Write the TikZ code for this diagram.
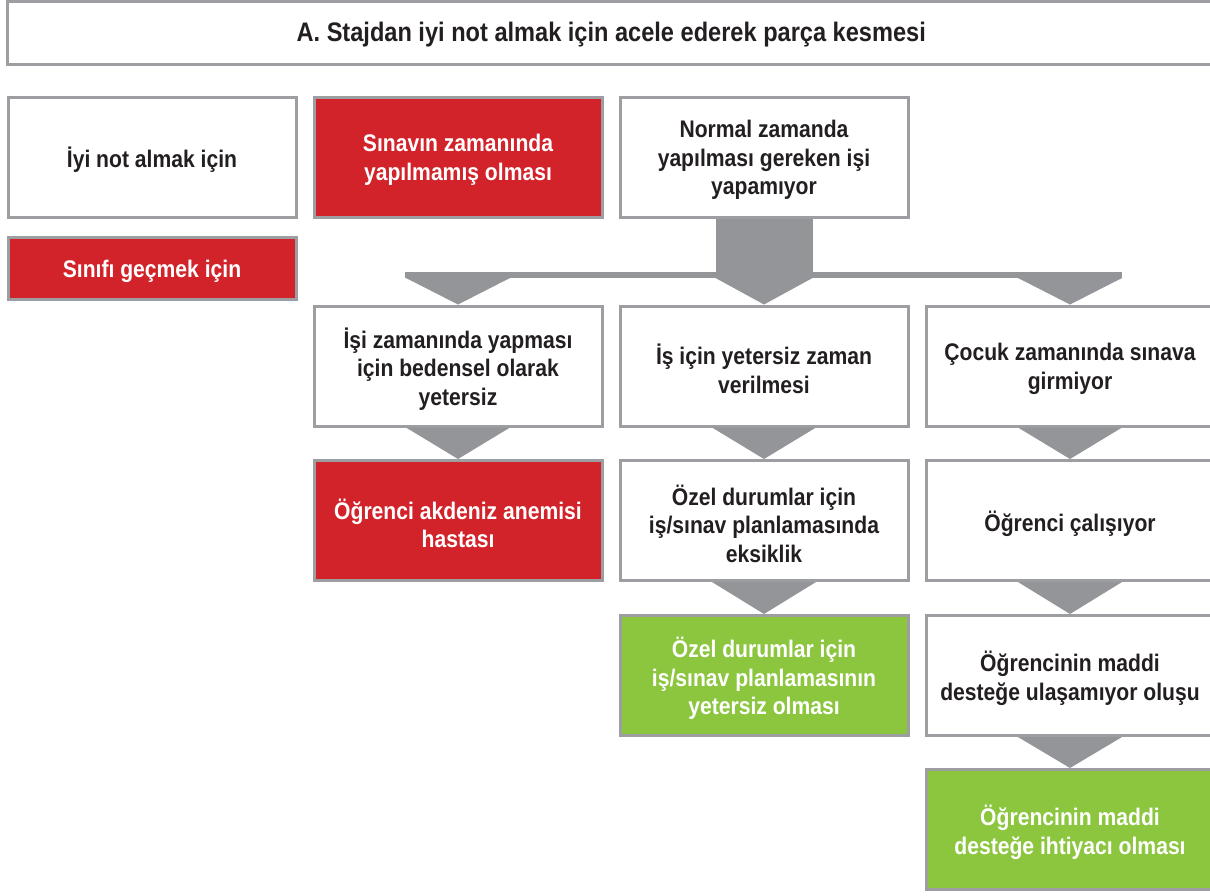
\documentclass[tikz,border=0pt]{standalone}
\usepackage{fontspec}
\newfontfamily\cfont{Liberation Sans}[FakeStretch=0.88]
\definecolor{bordergray}{HTML}{9D9EA1}
\definecolor{conngray}{HTML}{939598}
\definecolor{redbox}{HTML}{D2232A}
\definecolor{greenbox}{HTML}{8CC63F}
\definecolor{darktext}{HTML}{231F20}
\tikzset{
  box/.style={draw=bordergray, line width=3pt, fill=white,
    minimum width=288pt, minimum height=120pt, inner sep=0pt},
  redb/.style={box, fill=redbox},
  greenb/.style={box, fill=greenbox},
  txt/.style={text=darktext, align=center, inner sep=0pt,
    font=\cfont\bfseries\fontsize{24}{28.5}\selectfont},
  wtxt/.style={txt, text=white},
  conn/.style={fill=conngray}
}
\begin{document}
\begin{tikzpicture}[x=1pt,y=-1pt]
\useasboundingbox (0,0) rectangle (1210,895);
\fill[white] (0,0) rectangle (1210,895);
% title
\node[box, minimum width=1207.5pt, minimum height=62.5pt] (title) at (611.25,32.75) {};
\node[txt, font=\cfont\bfseries\fontsize{26.8}{30}\selectfont] (ttitle) at ([yshift=-2pt]title.center)
      {A. Stajdan iyi not almak için acele ederek parça kesmesi};
% boxes
\node[box] (n1) at (152,157) {};
\node[redb] (n2) at (458,157) {};
\node[box] (n3) at (764,157) {};
\node[redb, minimum height=62pt] (n4) at (152,268) {};
\node[box] (n5) at (458,366) {};
\node[box] (n6) at (764,366) {};
\node[box] (n7) at (1070,366) {};
\node[redb] (n8) at (458,520.5) {};
\node[box] (n9) at (764,520.5) {};
\node[box] (n10) at (1070,520.5) {};
\node[greenb] (n11) at (764,675.5) {};
\node[box] (n12) at (1070,675.5) {};
\node[greenb] (n13) at (1070,829.5) {};
% texts
\node[txt]  (t1)  at ([yshift=-3pt]n1.center)  {İyi not almak için};
\node[wtxt] (t2)  at ([yshift=-3pt]n2.center)  {Sınavın zamanında\\yapılmamış olması};
\node[txt]  (t3)  at ([yshift=-3pt]n3.center)  {Normal zamanda\\yapılması gereken işi\\yapamıyor};
\node[wtxt] (t4)  at ([yshift=-3pt]n4.center)  {Sınıfı geçmek için};
\node[txt]  (t5)  at ([yshift=-3pt]n5.center)  {İşi zamanında yapması\\için bedensel olarak\\yetersiz};
\node[txt]  (t6)  at ([yshift=-3pt]n6.center)  {İş için yetersiz zaman\\verilmesi};
\node[txt]  (t7)  at ([yshift=-3pt]n7.center)  {Çocuk zamanında sınava\\girmiyor};
\node[wtxt] (t8)  at ([yshift=-3pt]n8.center)  {Öğrenci akdeniz anemisi\\hastası};
\node[txt]  (t9)  at ([yshift=-3pt]n9.center)  {Özel durumlar için\\iş/sınav planlamasında\\eksiklik};
\node[txt]  (t10) at ([yshift=-3pt]n10.center) {Öğrenci çalışıyor};
\node[wtxt] (t11) at ([yshift=-3pt]n11.center) {Özel durumlar için\\iş/sınav planlamasının\\yetersiz olması};
\node[txt]  (t12) at ([yshift=-3pt]n12.center) {Öğrencinin maddi\\desteğe ulaşamıyor oluşu};
\node[wtxt] (t13) at ([yshift=-3pt]n13.center) {Öğrencinin maddi\\desteğe ihtiyacı olması};
% main connector
\coordinate (barTL) at (405,272);
\coordinate (barBR) at (1122,278);
\coordinate (barB) at (0,278);
\fill[conn] ([xshift=-48.5pt]n3.south) rectangle ([xshift=48.5pt]n3.south |- barB);
\fill[conn] (barTL) rectangle (barBR);
\fill[conn] (n5.north |- barB) ++(-52,0) -- ++(104,0) -- (n5.north) -- cycle;
\fill[conn] (n6.north |- barB) ++(-48.5,0) -- ++(97,0) -- (n6.north) -- cycle;
\fill[conn] (n7.north |- barB) ++(-52,0) -- ++(104,0) -- (n7.north) -- cycle;
% step triangles
\foreach \a/\b in {n5/n8, n6/n9, n9/n11, n7/n10, n10/n12, n12/n13}{
  \fill[conn] ([xshift=-52pt]\a.south) -- ([xshift=52pt]\a.south) -- (\b.north) -- cycle;
}
\end{tikzpicture}
\end{document}
